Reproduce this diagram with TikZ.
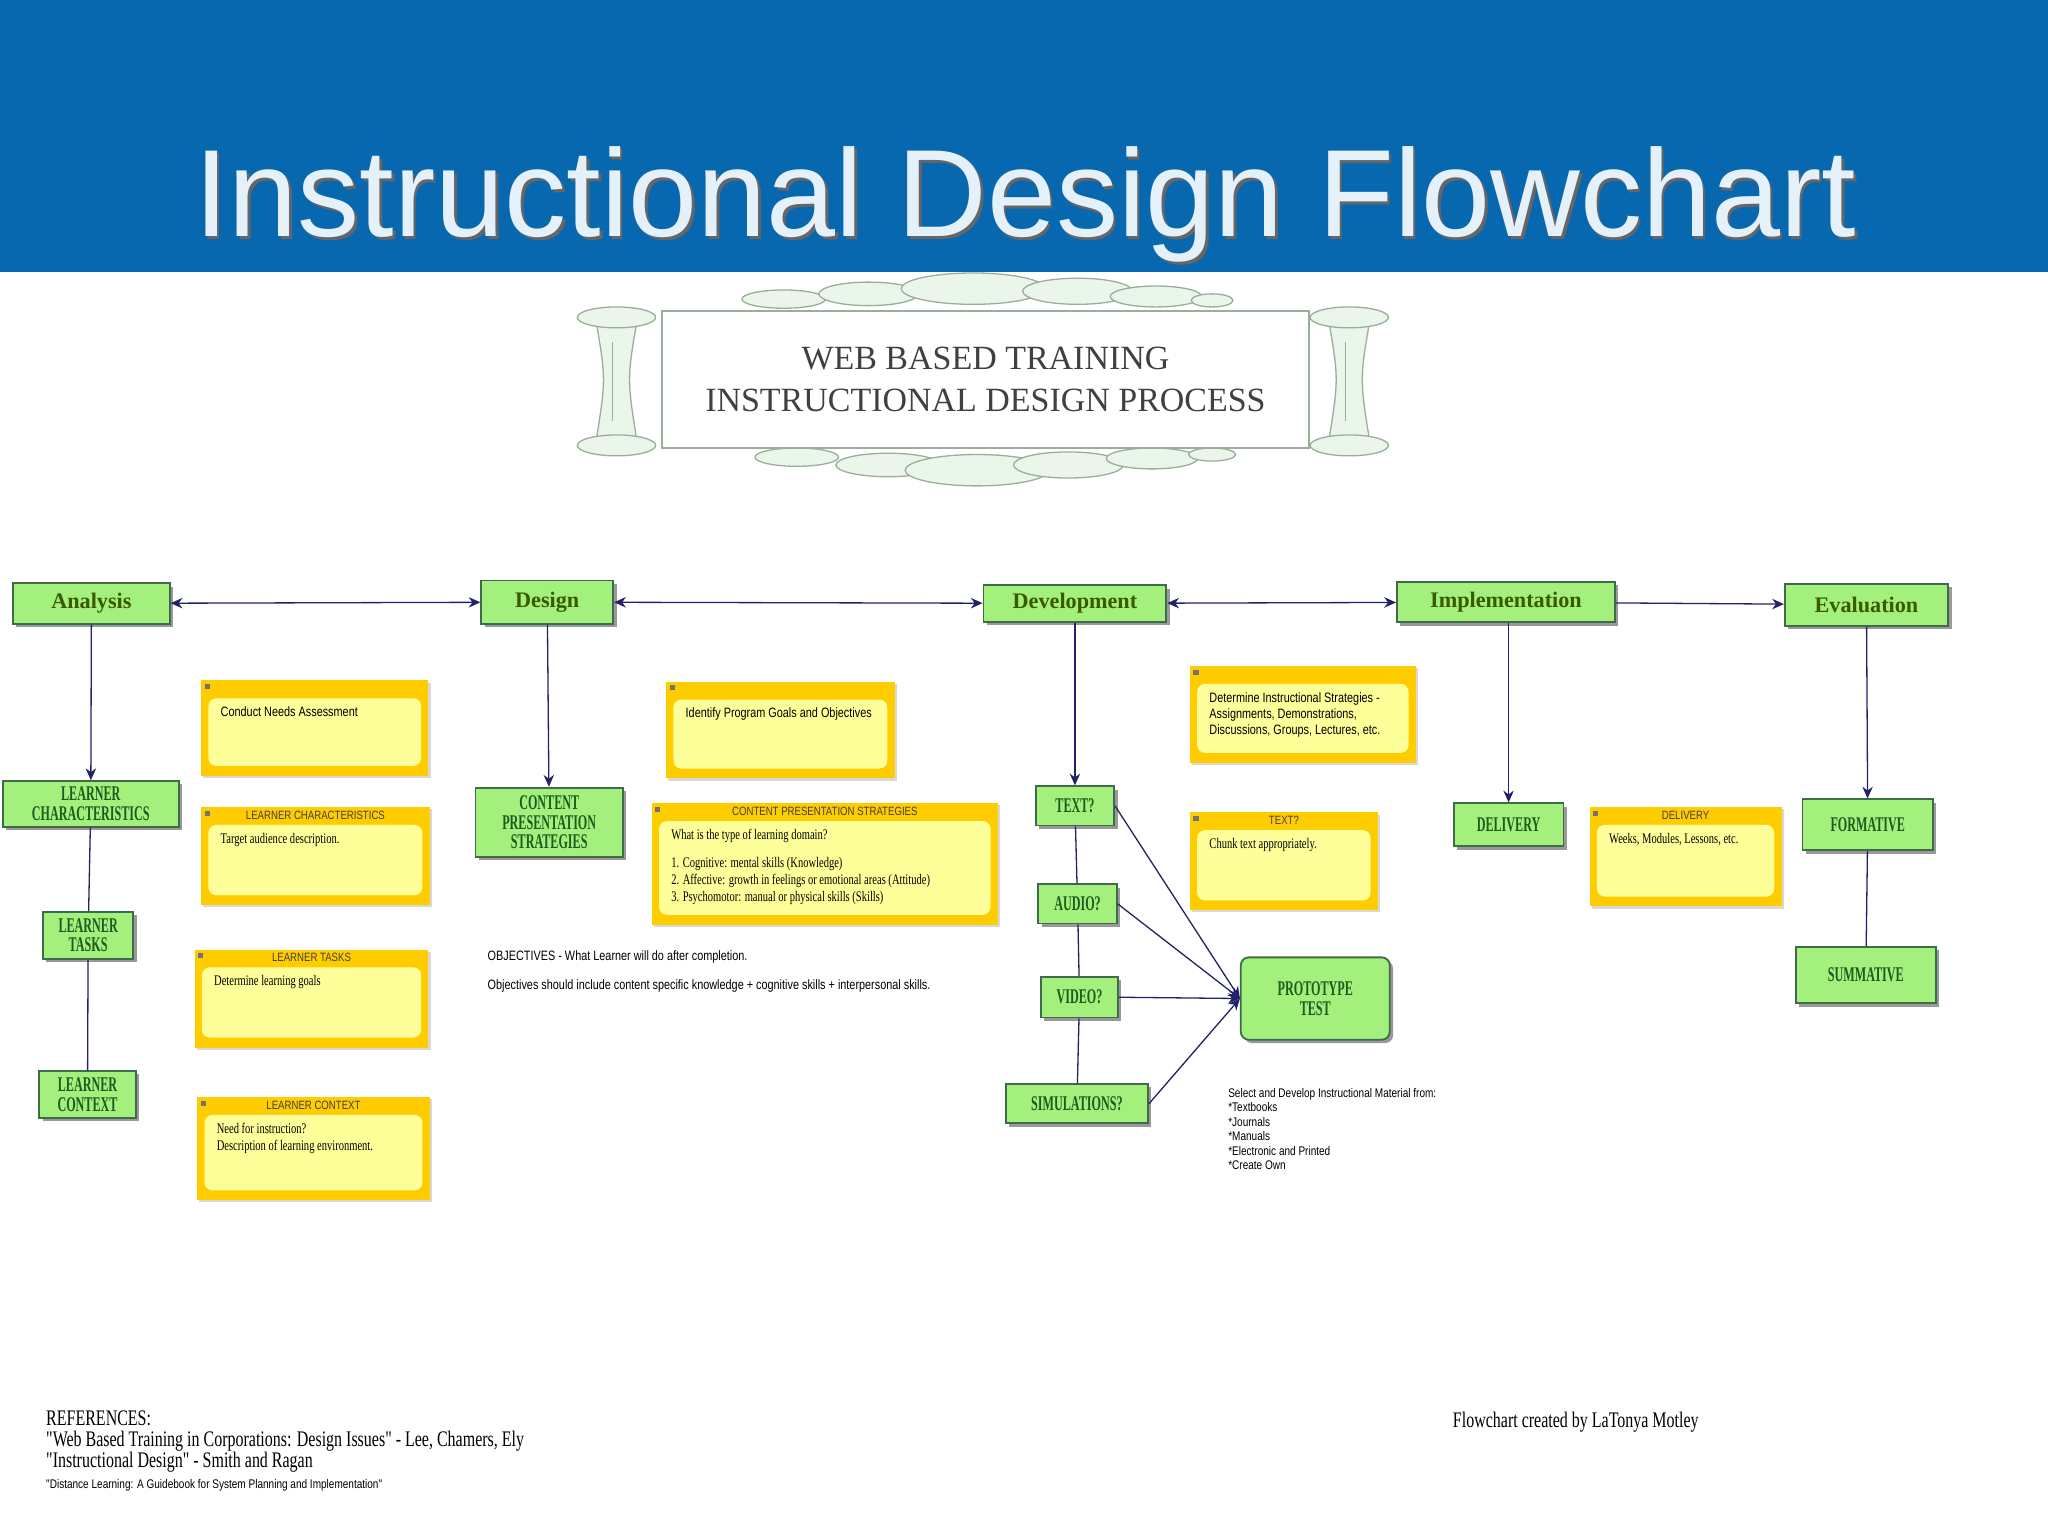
\documentclass[tikz,border=0pt]{standalone}
\usepackage{fontspec}
\setmainfont{Liberation Serif}
\newfontfamily\sans{Liberation Sans}
\newfontfamily\gcond[FakeStretch=0.58]{Liberation Serif}
\newfontfamily\ncond[FakeStretch=0.72]{Liberation Serif}
\newfontfamily\nsans[FakeStretch=0.8]{Liberation Sans}
\usetikzlibrary{shadows,arrows.meta}
\definecolor{hdr}{HTML}{0768B0}
\definecolor{titlec}{HTML}{E4F0FA}
\definecolor{gfill}{HTML}{A4F07C}
\definecolor{gborder}{HTML}{3F6B4A}
\definecolor{gtext}{HTML}{1F5A1F}
\definecolor{ptext}{HTML}{3A5A00}
\definecolor{noteo}{HTML}{FFCC00}
\definecolor{notei}{HTML}{FFFF99}
\definecolor{conn}{HTML}{22226A}
\definecolor{mint}{HTML}{EAF6EA}
\definecolor{mintd}{HTML}{9AAE9A}
\tikzset{
 sz/.style 2 args={minimum width={#1*0.5pt}, minimum height={#2*0.5pt}},
 gbox/.style={draw=gborder, fill=gfill, line width=0.7pt, text=gtext, align=center, inner sep=1pt,
   font=\gcond\bfseries\fontsize{8}{7.5}\selectfont,
   drop shadow={shadow xshift=1.3pt, shadow yshift=-1.3pt, fill=black!50, opacity=0.8}},
 phase/.style={gbox, font=\bfseries\fontsize{8.5}{9}\selectfont, text=ptext},
 cn/.style={draw=conn, line width=0.5pt},
 arr/.style={cn, -{Stealth[length=4.5pt,width=4pt]}},
 darr/.style={cn, {Stealth[length=4.5pt,width=4pt]}-{Stealth[length=4.5pt,width=4pt]}},
 notefr/.style={fill=noteo, inner sep=0pt, drop shadow={shadow xshift=0.8pt, shadow yshift=-0.8pt, fill=black!25, opacity=0.6}},
 notetitle/.style={font=\nsans\fontsize{4.6}{5}\selectfont, text=black!75, inner sep=0pt},
 notebody/.style={font=\ncond\fontsize{5.6}{6.6}\selectfont, align=left, inner sep=0pt},
 sbody/.style={font=\nsans\fontsize{5.2}{6.2}\selectfont, align=left, inner sep=0pt},
 oval/.style={fill=mint, draw=mintd, line width=0.5pt},
}
\newcommand\mynote[8]{%
 \node[notefr, sz={#4}{#5}] (#1) at (#2,#3) {};
 \fill[notei, rounded corners=3pt] ([shift={(6,14)}]#1.north west) rectangle ([shift={(-6,-8)}]#1.south east);
 \fill[black!55] ([shift={(3,3)}]#1.north west) rectangle +(4,4);
 \node[notetitle, anchor=north] at ([shift={(0,3)}]#1.north) {#6};
 \node[#8, anchor=north west] at ([shift={(15,20)}]#1.north west) {#7};
}
\begin{document}
\begin{tikzpicture}[x=0.5pt,y=-0.5pt]
\useasboundingbox (0,0) rectangle (1568,1176);
\fill[white] (0,0) rectangle (1568,1176);
\fill[hdr] (0,0) rectangle (1568,208);
\node[font=\sans\fontsize{47.5}{52}\selectfont, text=black!60, anchor=base] at (787,183) {Instructional Design Flowchart};
\node[font=\sans\fontsize{47.5}{52}\selectfont, text=titlec, anchor=base] (title) at (785,181) {Instructional Design Flowchart};

% banner
\foreach \x/\y/\rx/\ry in {600/229/32/7, 665/225/38/9, 745/221/55/12, 825/223/42/10, 885/227/35/8, 928/230/16/5,
  610/350/32/7, 680/356/40/9, 748/360/55/12, 818/356/42/10, 882/351/35/8, 928/348/18/5}
  \draw[oval] (\x,\y) ellipse [x radius=\rx, y radius=\ry];
\foreach \cx in {472,1033}{
  \draw[oval] (\cx-16,244) .. controls (\cx-8,290) .. (\cx-16,340) -- (\cx+16,340) .. controls (\cx+8,290) .. (\cx+16,244) -- cycle;
  \draw[oval] (\cx,243) ellipse [x radius=30, y radius=8];
  \draw[oval] (\cx,341) ellipse [x radius=30, y radius=8];
  \draw[mintd] (\cx-3,262) -- (\cx-3,322);
}
\node[draw=mintd, fill=white, line width=0.8pt, sz={495}{105}, align=center,
  font=\fontsize{13}{16}\selectfont, text=black!75] (banner) at (754.5,290.5)
  {WEB BASED TRAINING\\INSTRUCTIONAL DESIGN PROCESS};

% phases
\node[phase, sz={120}{31}] (an) at (70,462) {Analysis};
\node[phase, sz={101}{33}] (de) at (419,461) {Design};
\node[phase, sz={140}{28}] (dv) at (823,462) {Development};
\node[phase, sz={167}{31}] (im) at (1153,461) {Implementation};
\node[phase, sz={125}{32}] (ev) at (1429,463) {Evaluation};
\draw[darr] (an) -- (de);
\draw[darr] (de) -- (dv);
\draw[darr] (dv) -- (im);
\draw[arr] (im) -- (ev);

% green boxes
\node[gbox, sz={135}{35}] (lc) at (69.5,615.5) {LEARNER\\CHARACTERISTICS};
\node[gbox, sz={69}{36}] (lt) at (67.5,716) {LEARNER\\TASKS};
\node[gbox, sz={74}{36}] (lx) at (67,838) {LEARNER\\CONTEXT};
\node[gbox, sz={113}{53}] (cps) at (420.5,629.5) {CONTENT\\PRESENTATION\\STRATEGIES};
\node[gbox, sz={60}{30}] (tx) at (823,617) {TEXT?};
\node[gbox, sz={60}{30}] (au) at (825,692) {AUDIO?};
\node[gbox, sz={59}{31}] (vi) at (826.5,763.5) {VIDEO?};
\node[gbox, sz={109}{30}] (si) at (824.5,845) {SIMULATIONS?};
\node[gbox, sz={114}{63}, rounded corners=3pt] (pt) at (1007,764.5) {PROTOTYPE\\TEST};
\node[gbox, sz={84}{33}] (dl) at (1155,631.5) {DELIVERY};
\node[gbox, sz={100}{39}] (fo) at (1430,631.5) {FORMATIVE};
\node[gbox, sz={107}{43}] (su) at (1428.5,746.5) {SUMMATIVE};

\draw[arr] (an) -- (lc);
\draw[cn] (lc) -- (lt);
\draw[cn] (lt) -- (lx);
\draw[arr] (de) -- (cps);
\draw[arr] (dv) -- (tx);
\draw[cn] (tx) -- (au);
\draw[cn] (au) -- (vi);
\draw[cn] (vi) -- (si);
\draw[arr] (tx.east) -- (pt.west);
\draw[arr] (au.east) -- (pt.west);
\draw[arr] (vi.east) -- (pt.west);
\draw[arr] (si.east) -- (pt.west);
\draw[arr] (im.south -| dl.north) -- (dl);
\draw[arr] (ev) -- (fo);
\draw[cn] (fo) -- (su);

% notes
\mynote{n1}{241}{557.5}{174}{73}{}{Conduct Needs Assessment}{sbody}
\mynote{n2}{241.5}{655.5}{175}{75}{LEARNER CHARACTERISTICS}{Target audience description.}{notebody}
\mynote{n3}{238.5}{764.5}{179}{75}{LEARNER TASKS}{Determine learning goals}{notebody}
\mynote{n4}{240}{879.5}{178}{79}{LEARNER CONTEXT}{Need for instruction?\\Description of learning environment.}{notebody}
\mynote{n5}{597.5}{559}{175}{74}{}{Identify Program Goals and Objectives}{sbody}
\mynote{n6}{631.5}{661.5}{265}{93}{CONTENT PRESENTATION STRATEGIES}{What is the type of learning domain?\\[4pt]1. Cognitive: mental skills (Knowledge)\\2. Affective: growth in feelings or emotional areas (Attitude)\\3. Psychomotor: manual or physical skills (Skills)}{notebody}
\mynote{n7}{997.5}{547}{173}{74}{}{Determine Instructional Strategies -\\Assignments, Demonstrations,\\Discussions, Groups, Lectures, etc.}{sbody}
\mynote{n8}{983}{659.5}{144}{75}{TEXT?}{Chunk text appropriately.}{notebody}
\mynote{n9}{1290.5}{656}{147}{76}{DELIVERY}{Weeks, Modules, Lessons, etc.}{notebody}

% free texts
\node[sbody, anchor=west] (obj1) at (373,733) {OBJECTIVES - What Learner will do after completion.};
\node[sbody, anchor=west] (obj2) at (373,755) {Objectives should include content specific knowledge + cognitive skills + interpersonal skills.};
\node[font=\nsans\fontsize{4.8}{5.5}\selectfont, align=left, anchor=north west, inner sep=0pt] (sel) at (940,833)
 {Select and Develop Instructional Material from:\\*Textbooks\\*Journals\\*Manuals\\*Electronic and Printed\\*Create Own};
\node[font=\ncond\fontsize{8.5}{8}\selectfont, align=left, anchor=north west, inner sep=0pt] (refs) at (35,1080)
 {REFERENCES:\\"Web Based Training in Corporations: Design Issues" - Lee, Chamers, Ely\\"Instructional Design" - Smith and Ragan\\{\nsans\fontsize{4.8}{6}\selectfont "Distance Learning: A Guidebook for System Planning and Implementation"}};
\node[font=\ncond\fontsize{8.5}{8}\selectfont, anchor=west, inner sep=0pt] (cred) at (1112,1089) {Flowchart created by LaTonya Motley};
\end{tikzpicture}
\end{document}
